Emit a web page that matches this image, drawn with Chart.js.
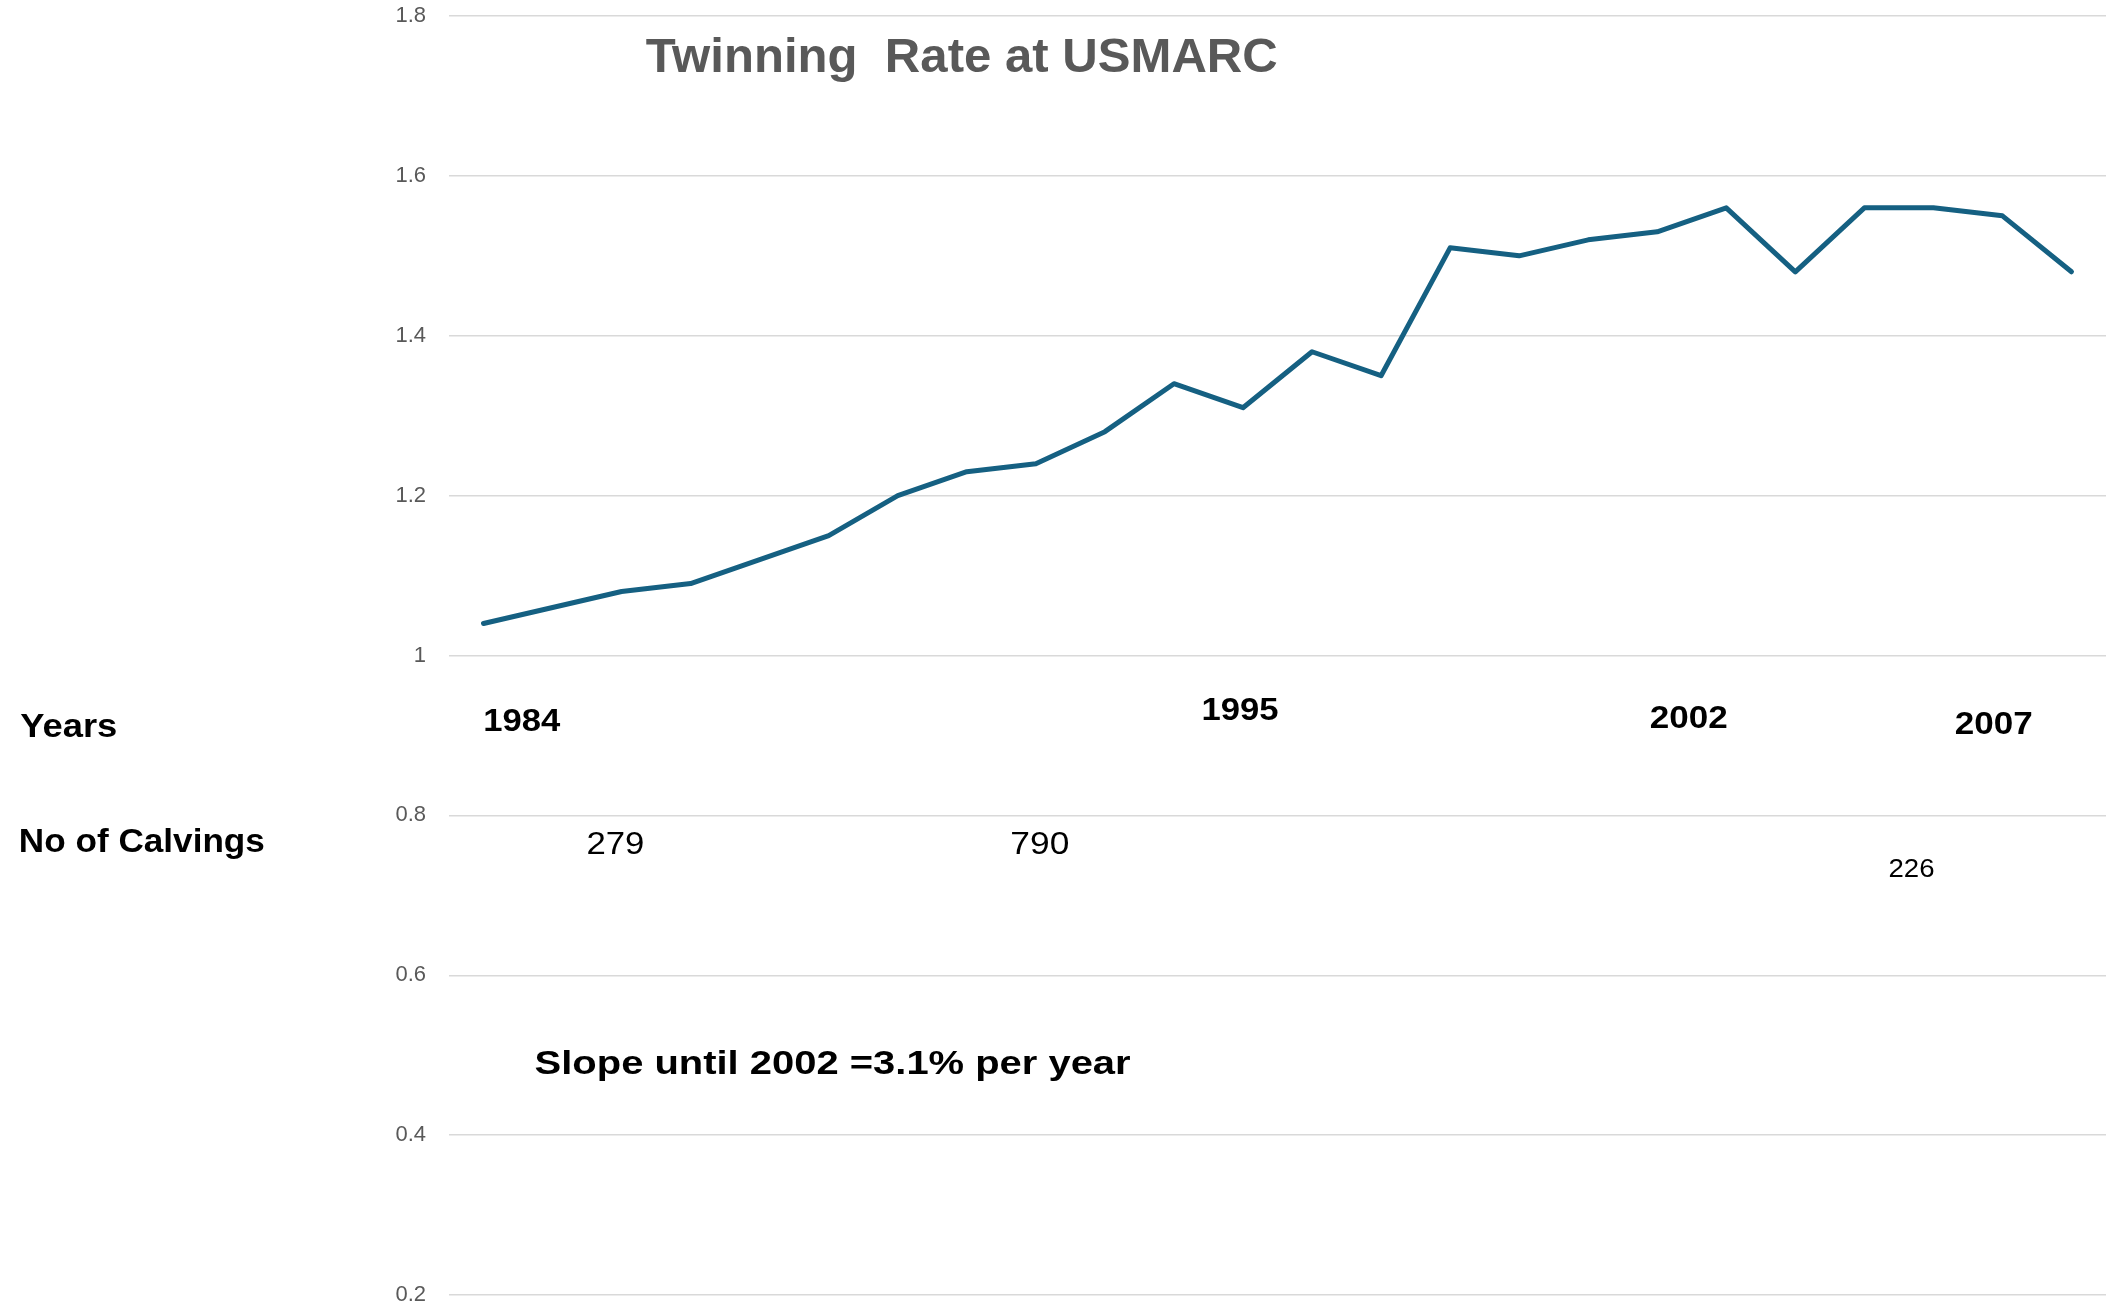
<!DOCTYPE html>
<html>
<head>
<meta charset="utf-8">
<script src="https://cdn.jsdelivr.net/npm/chart.js@4/dist/chart.umd.min.js"></script>
<style>
  html, body { margin: 0; padding: 0; background: #ffffff; }
  #wrap { width: 2113px; height: 1311px; position: relative; }
</style>
</head>
<body>
<div id="wrap"><canvas id="c"></canvas></div>
<script>
// ---- data ----
const years = [1984,1985,1986,1987,1988,1989,1990,1991,1992,1993,1994,1995,1996,1997,1998,1999,2000,2001,2002,2003,2004,2005,2006,2007];
const twinningRate = [1.04,1.06,1.08,1.09,1.12,1.15,1.20,1.23,1.24,1.28,1.34,1.31,1.38,1.35,1.51,1.50,1.52,1.53,1.56,1.48,1.56,1.56,1.55,1.48];
const yTicks = [0.2,0.4,0.6,0.8,1.0,1.2,1.4,1.6,1.8];
const titleText = 'Twinning  Rate at USMARC';
const rowLabels = ['Years', 'No of Calvings'];
const yearLabels = ['1984', '1995', '2002', '2007'];
const calvingLabels = ['279', '790', '226'];
const slopeNote = 'Slope until 2002 =3.1% per year';

// ---- layout of text annotations (anchor in scale units: category index, y value; left/baseline) ----
const textLayout = [
  { text: titleText,        xi: 2.35,  yv: 1.730, size: 49, weight: 'bold',   color: '#595959', w: 632 },
  { text: rowLabels[0],     xi: -6.71, yv: 0.898, size: 33, weight: 'bold',   color: '#000000', w: 97 },
  { text: rowLabels[1],     xi: -6.73, yv: 0.754, size: 33, weight: 'bold',   color: '#000000', w: 246 },
  { text: yearLabels[0],    xi: -0.004,yv: 0.906, size: 32, weight: 'bold',   color: '#000000', w: 77 },
  { text: yearLabels[1],    xi: 10.40, yv: 0.919, size: 32, weight: 'bold',   color: '#000000', w: 77 },
  { text: yearLabels[2],    xi: 16.89, yv: 0.909, size: 32, weight: 'bold',   color: '#000000', w: 78 },
  { text: yearLabels[3],    xi: 21.31, yv: 0.902, size: 32, weight: 'bold',   color: '#000000', w: 78 },
  { text: calvingLabels[0], xi: 1.49,  yv: 0.752, size: 32, weight: 'normal', color: '#000000', w: 58 },
  { text: calvingLabels[1], xi: 7.63,  yv: 0.752, size: 32, weight: 'normal', color: '#000000', w: 59 },
  { text: calvingLabels[2], xi: 20.35, yv: 0.723, size: 26, weight: 'normal', color: '#000000', w: 46 },
  { text: slopeNote,        xi: 0.74,  yv: 0.477, size: 33, weight: 'bold',   color: '#000000', w: 596 }
];

const annotationPlugin = {
  id: 'textAnnotations',
  afterDraw(chart) {
    const ctx = chart.ctx;
    const xs = chart.scales.x, ys = chart.scales.y;
    textLayout.forEach(t => {
      const px = xs.getPixelForValue(t.xi);
      const py = ys.getPixelForValue(t.yv);
      ctx.save();
      ctx.font = t.weight + ' ' + t.size + 'px "Liberation Sans", Arial, sans-serif';
      ctx.fillStyle = t.color;
      ctx.textAlign = 'left';
      ctx.textBaseline = 'alphabetic';
      const m = ctx.measureText(t.text).width;
      const sx = t.w / m;
      ctx.translate(px, py);
      ctx.scale(sx, 1);
      ctx.fillText(t.text, 0, 0);
      ctx.restore();
    });
  }
};

new Chart(document.getElementById('c'), {
  type: 'line',
  data: {
    labels: years.map(String),
    datasets: [{
      label: 'Twinning rate',
      data: twinningRate,
      borderColor: '#156082',
      backgroundColor: '#156082',
      borderWidth: 5,
      pointRadius: 0,
      pointHoverRadius: 0,
      tension: 0,
      borderCapStyle: 'round',
      borderJoinStyle: 'round',
      fill: false
    }]
  },
  options: {
    responsive: true,
    maintainAspectRatio: false,
    animation: false,
    layout: { padding: { left: 0, right: 7, top: 16, bottom: 16 } },
    plugins: {
      legend: { display: false },
      title: { display: false },
      tooltip: { enabled: false }
    },
    scales: {
      x: {
        type: 'category',
        display: false,
        offset: true
      },
      y: {
        min: 0.2,
        max: 1.8,
        afterBuildTicks(scale) { scale.ticks = yTicks.map(v => ({ value: v })); },
        afterFit(scale) {
          scale.width = 449;
          scale.paddingTop = 0;
          scale.paddingBottom = 0;
        },
        border: { display: false },
        grid: { color: '#d9d9d9', lineWidth: 1.5, drawTicks: false },
        ticks: {
          padding: 23,
          color: '#595959',
          font: { family: '"Liberation Sans", Arial, sans-serif', size: 22 },
          callback: v => String(Math.round(v * 10) / 10)
        }
      }
    }
  },
  plugins: [annotationPlugin]
});
</script>
</body>
</html>
